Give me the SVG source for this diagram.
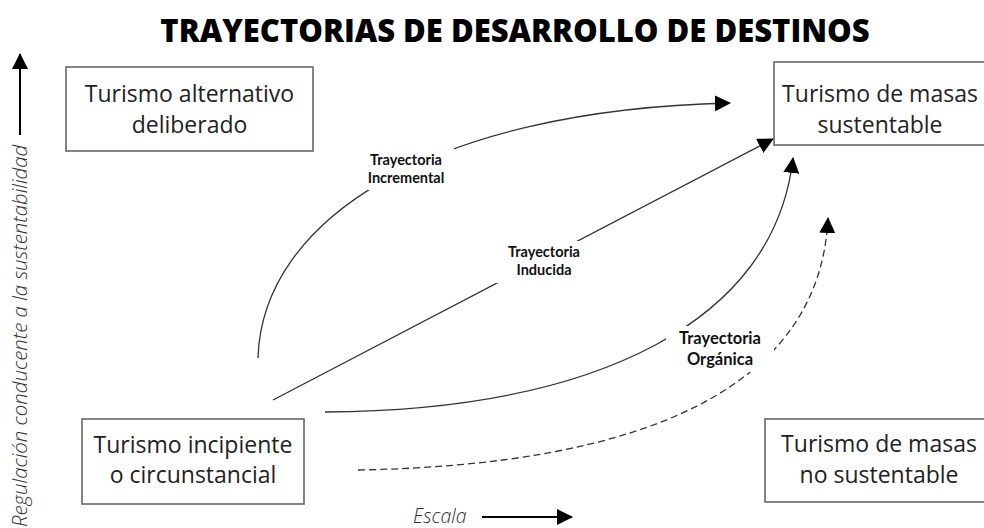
<svg xmlns="http://www.w3.org/2000/svg" width="984" height="528" viewBox="0 0 984 528">
<style>
.box{fill:#fff;stroke:#666;stroke-width:1.6}
.nt{font-family:"Open Sans","Noto Sans",sans-serif;font-size:23px;fill:#222;text-anchor:middle}
.conn{fill:none;stroke:#333;stroke-width:1.3}
.dash{stroke-dasharray:7 4}
.lbl{font-family:Lato,"Liberation Sans",sans-serif;font-weight:bold;fill:#111;text-anchor:middle}
.axis{font-family:"Open Sans","Noto Sans",sans-serif;font-style:italic;font-weight:300;font-size:19.5px;fill:#333}
</style>
<defs>
<marker id="ah" viewBox="0 0 16 16" refX="15" refY="8" markerWidth="16" markerHeight="16" markerUnits="userSpaceOnUse" orient="auto">
<path d="M0,0 L16,8 L0,16 z" fill="#000"/>
</marker>
</defs>
<rect width="984" height="528" fill="#fff"/>
<text x="515" y="42" font-family="'Open Sans','Noto Sans',sans-serif" font-weight="800" font-size="31" text-anchor="middle" fill="#000">TRAYECTORIAS DE DESARROLLO DE DESTINOS</text>

<g id="axes">
<line x1="20" y1="135" x2="20" y2="54" style="stroke:#000;stroke-width:2" marker-end="url(#ah)"/>
<text class="axis" font-size="20.4" style="font-size:20.4px" transform="translate(27,527) rotate(-90)">Regulación conducente a la sustentabilidad</text>
<text class="axis" x="413" y="523">Escala</text>
<line x1="482" y1="517" x2="572" y2="517" style="stroke:#000;stroke-width:2" marker-end="url(#ah)"/>
</g>

<g id="connectors">
<path class="conn" d="M258,358 C262,220 430,110 730,103" marker-end="url(#ah)"/>
<path class="conn" d="M273,400 L773,139" marker-end="url(#ah)"/>
<path class="conn" d="M325,412 C600,410 775,320 793,158" marker-end="url(#ah)"/>
<path class="conn dash" d="M358,470 C640,465 820,390 828,218" marker-end="url(#ah)"/>
</g>

<g id="label-incremental">
<rect x="358" y="148" width="96" height="42" fill="#fff"/>
<text class="lbl" font-size="14.5" x="406" y="165">Trayectoria</text>
<text class="lbl" font-size="14.5" x="406" y="183">Incremental</text>
</g>
<g id="label-inducida">
<rect x="496" y="241" width="96" height="42" fill="#fff"/>
<text class="lbl" font-size="14.5" x="544" y="257">Trayectoria</text>
<text class="lbl" font-size="14.5" x="544" y="275">Inducida</text>
</g>
<g id="label-organica">
<rect x="666" y="326" width="108" height="46" fill="#fff"/>
<text class="lbl" font-size="16.5" x="720" y="344">Trayectoria</text>
<text class="lbl" font-size="16.5" x="720" y="365">Orgánica</text>
</g>

<g id="node-alternativo">
<rect class="box" x="66" y="67" width="247" height="84"/>
<text class="nt" x="189.5" y="102">Turismo alternativo</text>
<text class="nt" x="189.5" y="133">deliberado</text>
</g>
<g id="node-masas-sustentable">
<rect class="box" x="774" y="62" width="220" height="83"/>
<text class="nt" x="880" y="102">Turismo de masas</text>
<text class="nt" x="880" y="133">sustentable</text>
</g>
<g id="node-incipiente">
<rect class="box" x="82" y="419" width="222" height="85"/>
<text class="nt" x="193" y="453">Turismo incipiente</text>
<text class="nt" x="193" y="483">o circunstancial</text>
</g>
<g id="node-masas-no-sustentable">
<rect class="box" x="765" y="419" width="229" height="83"/>
<text class="nt" x="879" y="452">Turismo de masas</text>
<text class="nt" x="879" y="483">no sustentable</text>
</g>
</svg>
